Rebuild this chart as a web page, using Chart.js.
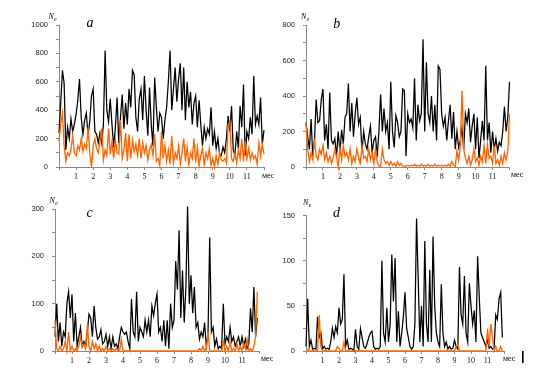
<!DOCTYPE html>
<html><head><meta charset="utf-8">
<script src="https://cdn.jsdelivr.net/npm/chart.js@4/dist/chart.umd.min.js"></script>
<style>
html,body{margin:0;padding:0;background:#fff;width:551px;height:371px;overflow:hidden;}
canvas{position:absolute;left:0;top:0;}
</style></head>
<body>
<canvas id="ca" width="551" height="371"></canvas>
<canvas id="cb" width="551" height="371"></canvas>
<canvas id="cc" width="551" height="371"></canvas>
<canvas id="cd" width="551" height="371"></canvas>
<script>
// ---- data (one value per 0.1 month) ----
const monthTicks = [1,2,3,4,5,6,7,8,9,10,11];
const aBlack = [240,450,680,590,120,280,200,340,250,300,
 370,470,620,350,230,330,380,220,320,500,
 550,250,230,170,240,170,300,820,400,320,
 480,300,140,280,490,170,350,510,270,450,
 300,550,420,680,650,350,250,480,550,330,
 640,400,220,560,300,150,630,420,250,380,
 350,200,330,420,600,820,400,550,700,460,
 620,730,400,700,330,600,420,530,300,450,
 500,280,470,300,150,280,200,270,230,420,
 150,250,130,200,90,80,140,100,200,360,
 250,430,120,80,250,130,430,280,580,80,
 250,200,350,230,640,300,360,300,490,160,
 260];
const aOrange = [180,300,380,150,40,100,80,120,220,100,
 80,150,120,200,110,160,130,280,100,0,
 150,200,130,100,180,270,50,120,80,270,
 90,180,60,190,100,90,330,60,120,240,
 40,230,60,190,110,160,80,200,60,170,
 100,150,50,120,160,80,230,40,60,10,
 250,60,150,40,120,20,220,30,100,60,
 150,20,100,200,40,140,20,100,60,200,
 30,140,10,80,130,20,100,60,130,10,
 60,0,80,20,100,50,40,60,30,300,
 320,60,40,100,30,120,60,200,40,180,
 60,130,50,100,60,80,20,170,80,160,
 90];
const bBlack = [250,170,100,270,60,150,380,250,260,380,
 440,150,240,100,420,150,130,160,60,200,
 80,210,130,280,300,470,200,360,170,300,
 390,240,280,80,200,130,100,170,230,80,
 150,170,60,200,410,200,330,200,250,100,
 480,200,110,290,250,170,200,440,430,60,
 300,250,270,220,500,150,350,260,300,720,
 200,590,300,250,400,200,350,150,570,550,
 300,230,280,150,260,350,160,310,100,200,
 110,150,220,100,300,250,330,140,230,300,
 100,280,50,150,260,150,570,150,250,80,
 200,100,160,90,140,120,200,340,200,280,
 480];
const bOrange = [250,100,30,80,40,160,60,40,100,70,
 120,40,80,30,60,20,50,100,60,0,
 110,40,120,60,80,40,100,20,60,30,
 100,50,20,120,50,60,30,100,40,80,
 20,110,30,5,5,100,40,20,30,10,
 30,10,20,5,30,10,20,5,5,5,
 10,5,10,5,15,5,10,5,15,5,
 10,5,15,5,10,5,15,5,10,5,
 10,5,10,5,15,5,30,10,5,90,
 40,120,430,100,50,20,60,10,40,100,
 30,50,10,60,30,120,20,130,50,60,
 20,120,20,40,10,60,20,80,40,90,
 300];
const cBlack = [30,100,20,60,10,40,30,100,125,70,
 120,20,80,10,30,50,10,20,10,40,
 78,70,30,95,50,25,30,45,15,20,
 35,10,30,5,30,10,15,5,30,50,
 40,35,40,20,5,110,40,30,125,20,
 50,40,30,65,40,65,30,95,75,100,
 120,40,50,20,65,10,65,5,100,50,
 65,190,130,255,70,170,60,135,305,100,
 160,80,135,50,60,25,40,30,60,10,
 35,240,40,50,10,25,5,10,5,100,
 15,30,20,50,20,30,10,20,30,10,
 30,10,25,5,15,90,40,135,30,70];
const cOrange = [65,5,0,10,0,5,20,0,40,0,
 10,0,5,0,10,30,10,15,5,55,
 10,0,20,5,15,0,10,0,5,0,
 10,0,5,0,5,0,5,0,0,25,
 0,0,0,0,0,0,0,0,0,0,
 0,0,0,0,0,0,0,0,0,0,
 0,0,0,0,0,0,0,0,0,0,
 0,0,0,0,0,0,0,0,0,0,
 0,0,0,0,0,5,0,10,0,5,
 40,0,0,0,0,0,0,0,0,20,
 0,10,0,20,0,5,0,15,0,10,
 0,15,5,25,0,5,0,10,30,125];
const dBlack = [5,58,5,12,2,3,2,38,15,20,
 2,5,2,3,2,10,25,15,27,20,
 48,30,35,85,5,12,2,3,2,0,
 24,5,2,25,15,5,3,8,15,20,
 22,5,2,3,2,5,100,20,10,48,
 10,30,107,55,103,10,44,5,20,38,
 65,25,15,5,2,5,30,147,80,10,
 50,5,122,30,10,90,10,127,50,20,
 10,5,74,20,5,10,2,5,2,3,
 12,5,2,93,40,30,83,20,10,75,
 50,30,45,10,105,60,20,15,10,5,
 12,3,5,2,3,40,35,58,65,15];
const dOrange = [0,2,0,0,0,0,0,0,40,5,
 0,0,0,0,0,0,0,0,0,5,
 3,0,0,10,0,0,0,0,0,0,
 0,0,0,0,0,0,0,0,0,0,
 0,0,0,0,0,0,0,0,0,0,
 0,0,0,0,0,0,0,0,0,0,
 0,0,0,0,0,0,0,0,0,0,
 0,0,0,0,0,0,0,0,0,0,
 0,0,0,0,0,0,0,0,0,0,
 0,5,8,0,0,0,0,0,0,0,
 0,0,0,0,0,0,0,0,0,0,
 25,5,30,15,0,5,0,0,5,0];
const panelLetters = ['a','b','c','d'];
const yAxisTitle = 'N';
const yAxisSub = 'e';
const xUnit = 'мес';

// ---- layout ----
const W = 551, H = 371, YW = 50, XH = 20;
const panels = [
  {id:'ca', black:aBlack, orange:aOrange, ymax:1000, minor:100, major:200, x0:59, x12:264, yTop:25, yBot:167,
   letter:[90,27], nlab:[48.5,18.5], unit:[262,176]},
  {id:'cb', black:bBlack, orange:bOrange, ymax:800, minor:100, major:200, x0:306, x12:509.5, yTop:25, yBot:167,
   letter:[336.7,28], nlab:[301,19], unit:[511,175]},
  {id:'cc', black:cBlack, orange:cOrange, ymax:300, minor:50, major:100, x0:55, x12:259, yTop:209, yBot:351,
   letter:[89.7,217], nlab:[49.5,202.5], unit:[261,358.5]},
  {id:'cd', black:dBlack, orange:dOrange, ymax:150, minor:25, major:50, x0:306, x12:504, yTop:215.7, yBot:351,
   letter:[336.5,217], nlab:[303,205], unit:[503,358.5], bar:true}
];

const toXY = arr => arr.map((v,i)=>({x:i/10, y:v}));

panels.forEach((p, k) => {
  const deco = {
    id:'deco'+k,
    afterDraw(chart){
      const ctx = chart.ctx;
      ctx.save();
      ctx.fillStyle = '#000';
      ctx.textBaseline = 'alphabetic';
      ctx.font = 'italic 14px "Liberation Serif"';
      ctx.textAlign = 'center';
      ctx.fillText(panelLetters[k], p.letter[0], p.letter[1]);
      ctx.textAlign = 'left';
      ctx.font = 'italic 8px "Liberation Serif"';
      ctx.fillText(yAxisTitle, p.nlab[0], p.nlab[1]);
      const nw = ctx.measureText(yAxisTitle).width;
      ctx.font = 'italic 5.5px "Liberation Serif"';
      ctx.fillText(yAxisSub, p.nlab[0]+nw+0.3, p.nlab[1]+2);
      ctx.font = '8px "Liberation Serif"';
      ctx.textBaseline = 'middle';
      ctx.fillText(xUnit, p.unit[0], p.unit[1]);
      if (p.bar){
        ctx.fillRect(522, 351, 1.6, 12);
      }
      ctx.restore();
    }
  };
  new Chart(document.getElementById(p.id), {
    type:'line',
    data:{datasets:[
      {data:toXY(p.orange), borderColor:'#FF6600', borderWidth:1.35, pointRadius:0, tension:0, clip:false},
      {data:toXY(p.black), borderColor:'#000000', borderWidth:1.25, pointRadius:0, tension:0, clip:false}
    ]},
    options:{
      responsive:false, animation:false, devicePixelRatio:1,
      layout:{padding:{left:p.x0-YW, right:W-p.x12, top:p.yTop, bottom:H-p.yBot-XH}},
      plugins:{legend:{display:false}, tooltip:{enabled:false}, title:{display:false}},
      scales:{
        x:{type:'linear', min:0, max:12,
          afterFit:s=>{s.height=XH;},
          afterBuildTicks:s=>{s.ticks=[0].concat(monthTicks,[12]).map(v=>({value:v}));},
          ticks:{autoSkip:false, maxRotation:0, padding:2, color:'#111',
            font:{family:'Liberation Serif', size:8},
            callback:v=>monthTicks.includes(v)?String(v):''},
          grid:{drawOnChartArea:false, drawTicks:true, tickLength:3, color:'#8a8a8a'},
          border:{display:true, color:'#8a8a8a', width:1}},
        y:{min:0, max:p.ymax,
          afterFit:s=>{s.width=YW;},
          ticks:{stepSize:p.minor, padding:8, color:'#222',
            font:{family:'Liberation Sans', size:7.5},
            callback:v=>(v%p.major===0)?String(v):''},
          grid:{drawOnChartArea:false, drawTicks:true, tickLength:3, color:'#8a8a8a'},
          border:{display:true, color:'#8a8a8a', width:1}}
      }
    },
    plugins:[deco]
  });
});
</script>
</body></html>
